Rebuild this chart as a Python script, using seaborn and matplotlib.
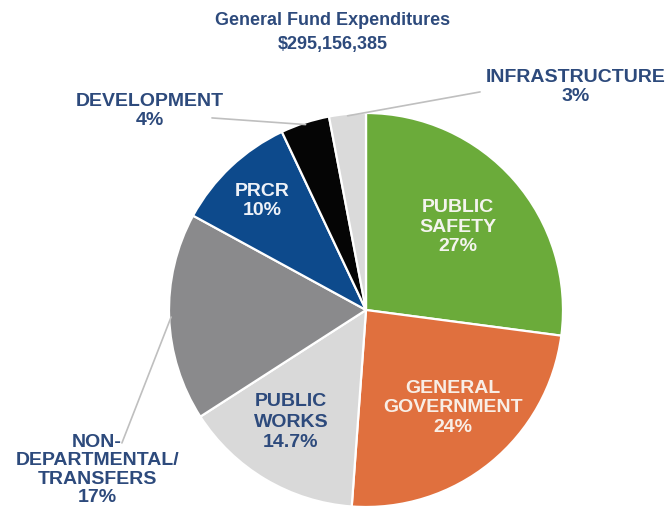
import numpy as np
import matplotlib
matplotlib.use("Agg")
import matplotlib.pyplot as plt
import seaborn as sns

# General Fund expenditure shares (percent), clockwise from 12 o'clock
categories = ["PUBLIC\nSAFETY", "GENERAL\nGOVERNMENT", "PUBLIC\nWORKS",
              "NON-\nDEPARTMENTAL/\nTRANSFERS", "PRCR", "DEVELOPMENT",
              "INFRASTRUCTURE"]
shares = [27, 24, 14.7, 17, 10, 4, 3]
share_labels = ["27%", "24%", "14.7%", "17%", "10%", "4%", "3%"]
title_lines = ["General Fund Expenditures", "$295,156,385"]

sns.set_theme(style="white")
plt.rcParams["font.family"] = ["Liberation Sans", "DejaVu Sans"]

colors = ["#6BAB3A", "#E0703E", "#D9D9D9", "#8A8A8C", "#0D4A8C", "#050505", "#DADADA"]
navy = "#2D4A7C"
text_colors = ["#F4F4EE", "#F8EEE6", navy, navy, "#EEF2F8", navy, navy]
# label anchor points in pie units (radius = 1)
label_pos = [(0.467, 0.421), (0.442, -0.497), (-0.381, -0.569),
             (-1.365, -0.812), (-0.528, 0.553), (-1.096, 1.010), (1.066, 1.132)]
line_gap = [1.22, 1.2, 1.25, 1.12, 1.2, 1.2, 1.2]
# where each leader line ends (None = label sits inside its slice)
leader_end = [None, None, None, (-1.239, -0.675), None, (-0.782, 0.975), (0.579, 1.107)]

W, H = 666, 514
fig = plt.figure(figsize=(W / 100, H / 100), dpi=100)
cx, cy, r = 366, 310, 197
ax = fig.add_axes([(cx - r) / W, (H - cy - r) / H, 2 * r / W, 2 * r / H])

wedges, _ = ax.pie(shares, colors=colors, startangle=90, counterclock=False,
                   radius=1.0, wedgeprops=dict(edgecolor="white", linewidth=1.6))
ax.set_xlim(-1, 1)
ax.set_ylim(-1, 1)
ax.set_aspect("equal")
ax.axis("off")

for w, name, pct, tc, pos, gap, end in zip(wedges, categories, share_labels,
                                           text_colors, label_pos, line_gap,
                                           leader_end):
    if end is not None:
        mid = np.deg2rad((w.theta1 + w.theta2) / 2)
        ax.plot([np.cos(mid) * 0.99, end[0]], [np.sin(mid) * 0.99, end[1]],
                color="#BFBFBF", lw=1.2, clip_on=False, zorder=1)
    ax.text(pos[0], pos[1], f"{name}\n{pct}", ha="center", va="center",
            color=tc, fontsize=14, fontweight="bold", linespacing=gap,
            clip_on=False, zorder=3)

fig.text(0.5, 1 - 20.5 / H, title_lines[0], ha="center", va="center",
         color=navy, fontsize=13, fontweight="bold")
fig.text(0.5, 1 - 44 / H, title_lines[1], ha="center", va="center",
         color=navy, fontsize=13, fontweight="bold")

fig.savefig("out.png", dpi=100, facecolor="white")
